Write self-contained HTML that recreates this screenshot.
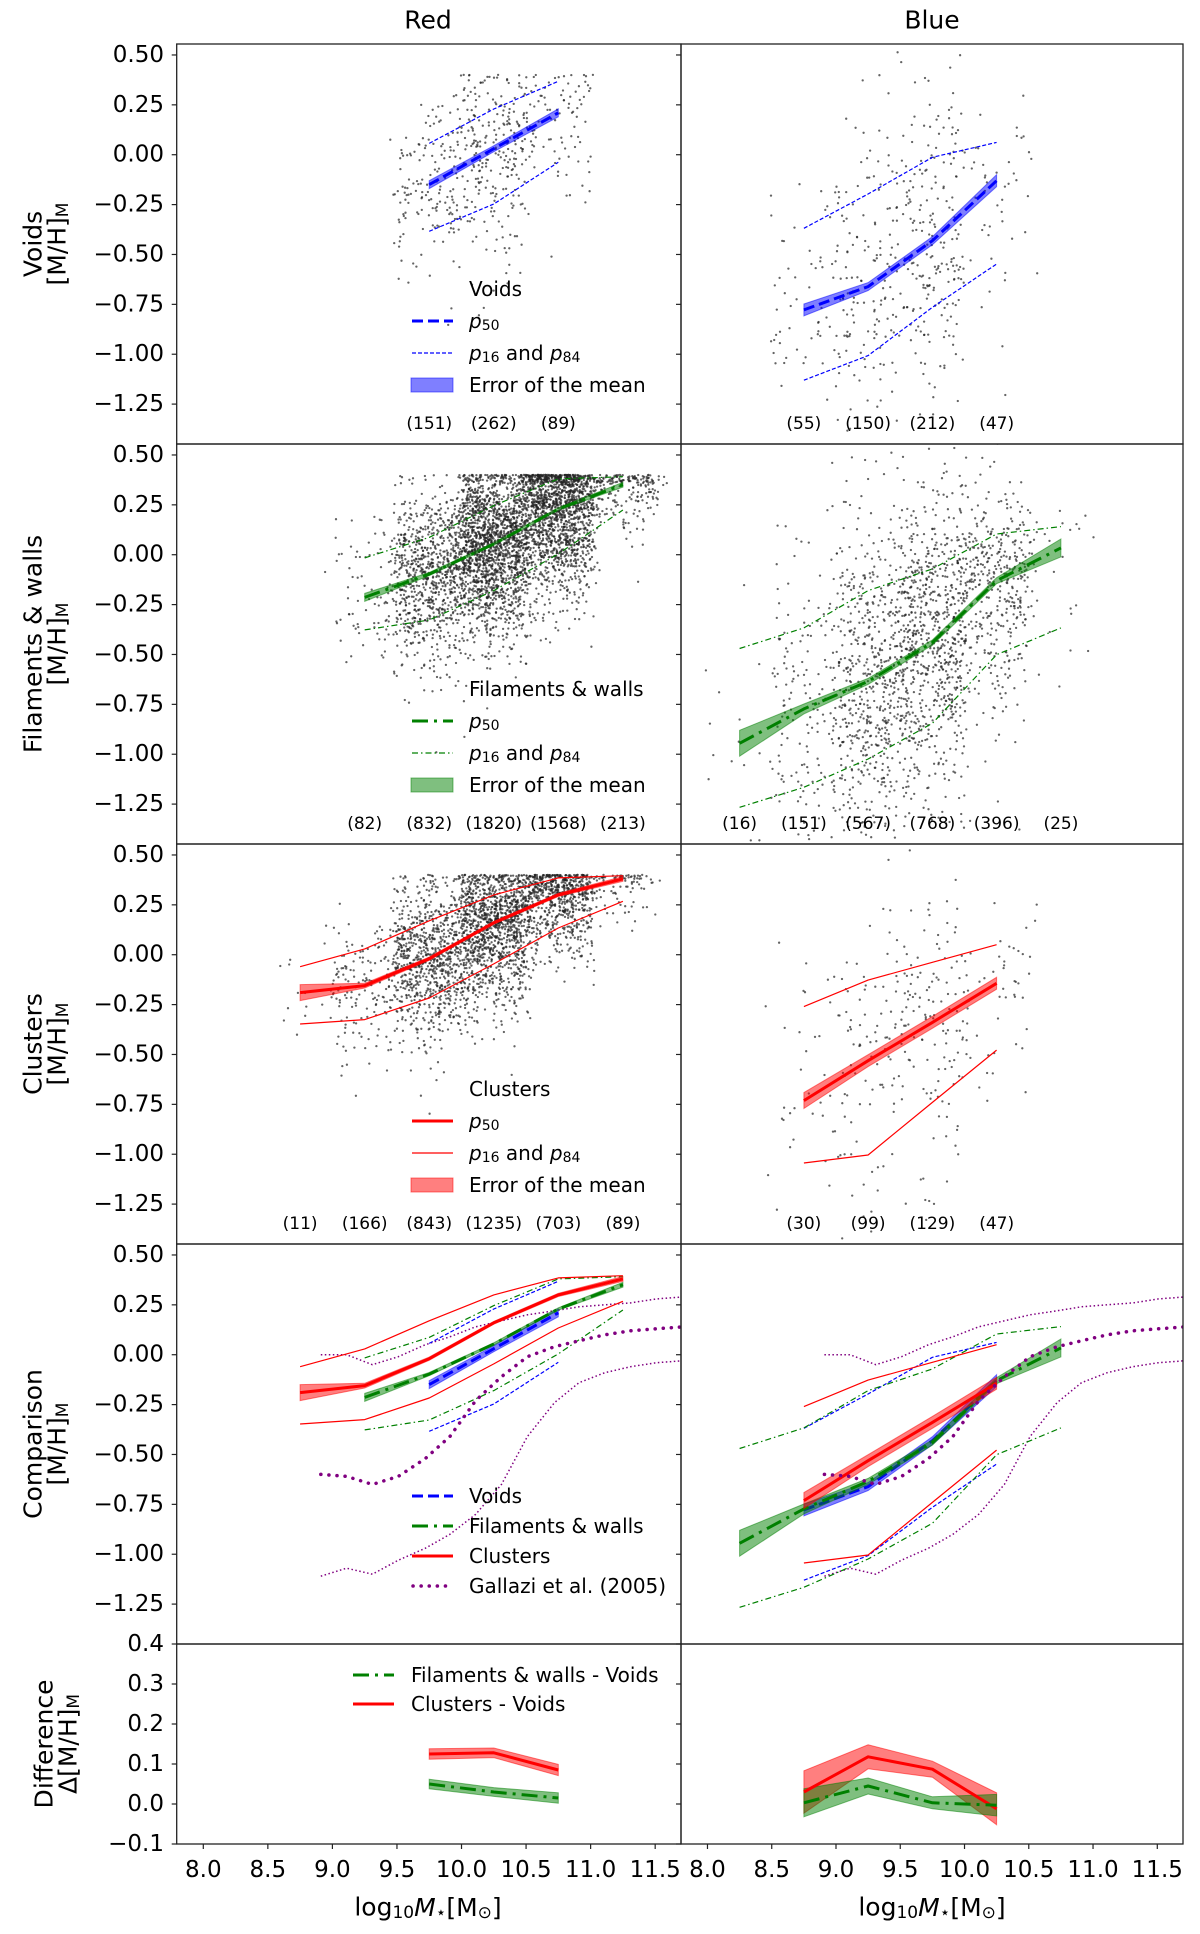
<!DOCTYPE html>
<html><head><meta charset="utf-8"><title>Metallicity vs stellar mass by environment</title>
<style>
html,body{margin:0;padding:0;background:#fff;}
svg{display:block;font-family:"DejaVu Sans","Liberation Sans",sans-serif;}
</style></head>
<body>
<svg id="fig" width="1200" height="1934" viewBox="0 0 1200 1934" xmlns="http://www.w3.org/2000/svg"></svg>
<script>
// ---------------- data ----------------
const voidsRedM = [9.75, 10.25, 10.75];
const voidsRedP50 = [-0.15, 0.03, 0.21];
const voidsRedP84 = [0.057, 0.229, 0.368];
const voidsRedP16 = [-0.384, -0.247, -0.038];
const voidsRedErr = [0.02, 0.015, 0.02];
const voidsRedN = [151, 262, 89];

const voidsBlueM = [8.75, 9.25, 9.75, 10.25];
const voidsBlueP50 = [-0.778, -0.661, -0.431, -0.13];
const voidsBlueP84 = [-0.369, -0.197, -0.013, 0.062];
const voidsBlueP16 = [-1.13, -1.007, -0.765, -0.548];
const voidsBlueErr = [0.03, 0.02, 0.02, 0.03];
const voidsBlueN = [55, 150, 212, 47];

const filRedM = [9.25, 9.75, 10.25, 10.75, 11.25];
const filRedP50 = [-0.214, -0.097, 0.054, 0.229, 0.351];
const filRedP84 = [-0.016, 0.087, 0.246, 0.38, 0.391];
const filRedP16 = [-0.377, -0.327, -0.18, 0.004, 0.224];
const filRedErr = [0.02, 0.008, 0.006, 0.006, 0.012];
const filRedN = [82, 832, 1820, 1568, 213];

const filBlueM = [8.25, 8.75, 9.25, 9.75, 10.25, 10.75];
const filBlueP50 = [-0.945, -0.773, -0.635, -0.44, -0.13, 0.034];
const filBlueP84 = [-0.47, -0.367, -0.18, -0.071, 0.104, 0.141];
const filBlueP16 = [-1.266, -1.166, -1.024, -0.845, -0.501, -0.367];
const filBlueErr = [0.065, 0.025, 0.015, 0.013, 0.015, 0.045];
const filBlueN = [16, 151, 567, 768, 396, 25];

const cluRedM = [8.75, 9.25, 9.75, 10.25, 10.75, 11.25];
const cluRedP50 = [-0.19, -0.155, -0.02, 0.16, 0.30, 0.38];
const cluRedP84 = [-0.06, 0.029, 0.17, 0.30, 0.385, 0.396];
const cluRedP16 = [-0.347, -0.325, -0.217, -0.046, 0.134, 0.268];
const cluRedErr = [0.04, 0.012, 0.008, 0.007, 0.008, 0.012];
const cluRedN = [11, 166, 843, 1235, 703, 89];

const cluBlueM = [8.75, 9.25, 9.75, 10.25];
const cluBlueP50 = [-0.731, -0.531, -0.339, -0.143];
const cluBlueP84 = [-0.26, -0.127, -0.038, 0.05];
const cluBlueP16 = [-1.044, -1.004, -0.74, -0.478];
const cluBlueErr = [0.04, 0.03, 0.03, 0.03];
const cluBlueN = [30, 99, 129, 47];

const galM = [8.91, 9.11, 9.31, 9.51, 9.72, 9.91, 10.11, 10.31, 10.51, 10.72, 10.91, 11.11, 11.31, 11.51, 11.72];
const galP50 = [-0.60, -0.61, -0.65, -0.61, -0.52, -0.41, -0.23, -0.11, -0.01, 0.04, 0.07, 0.10, 0.12, 0.13, 0.14];
const galP16 = [-1.11, -1.07, -1.10, -1.03, -0.97, -0.90, -0.80, -0.65, -0.41, -0.24, -0.14, -0.09, -0.06, -0.04, -0.03];
const galP84 = [0.00, 0.00, -0.05, -0.01, 0.05, 0.09, 0.14, 0.17, 0.20, 0.22, 0.24, 0.25, 0.26, 0.28, 0.29];

const diffRedM = [9.75, 10.25, 10.75];
const diffRedClu = [0.125, 0.128, 0.085];
const diffRedCluErr = [0.013, 0.012, 0.014];
const diffRedFil = [0.05, 0.03, 0.015];
const diffRedFilErr = [0.012, 0.011, 0.013];

const diffBlueM = [8.75, 9.25, 9.75, 10.25];
const diffBlueClu = [0.03, 0.118, 0.087, -0.012];
const diffBlueCluErr = [0.053, 0.03, 0.02, 0.04];
const diffBlueFil = [0.003, 0.045, 0.003, -0.003];
const diffBlueFilErr = [0.035, 0.02, 0.015, 0.027];

const yTicksMain = [0.5, 0.25, 0, -0.25, -0.5, -0.75, -1.0, -1.25];
const yTickLabelsMain = ["0.50", "0.25", "0.00", "\u22120.25", "\u22120.50", "\u22120.75", "\u22121.00", "\u22121.25"];
const yTicksDiff = [0.4, 0.3, 0.2, 0.1, 0.0, -0.1];
const yTickLabelsDiff = ["0.4", "0.3", "0.2", "0.1", "0.0", "\u22120.1"];
const xTicks = [8.0, 8.5, 9.0, 9.5, 10.0, 10.5, 11.0, 11.5];
const xTickLabels = ["8.0", "8.5", "9.0", "9.5", "10.0", "10.5", "11.0", "11.5"];

// ---------------- geometry ----------------
const NS = "http://www.w3.org/2000/svg";
const svg = document.getElementById("fig");
const COLX = [[176.7, 681], [681, 1183]];
const XMIN = 7.794, XMAX = 11.70;
const ROWTOP = [44, 444, 844, 1244, 1644];
const ROWH = [400, 400, 400, 400, 200];
const YLIM = [[-1.45, 0.555], [-1.45, 0.555], [-1.45, 0.555], [-1.45, 0.555], [-0.1, 0.4]];
function X(c, m) { return COLX[c][0] + (m - XMIN) / (XMAX - XMIN) * (COLX[c][1] - COLX[c][0]); }
function Y(r, v) { const [lo, hi] = YLIM[r]; return ROWTOP[r] + (hi - v) / (hi - lo) * ROWH[r]; }

function mk(tag, attrs, parent) {
  const e = document.createElementNS(NS, tag);
  for (const k in attrs) e.setAttribute(k, attrs[k]);
  (parent || svg).appendChild(e);
  return e;
}

// deterministic generator for scatter texture
let seed = 12345;
function rnd() { seed |= 0; seed = seed + 0x6D2B79F5 | 0; let t = Math.imul(seed ^ seed >>> 15, 1 | seed); t = t + Math.imul(t ^ t >>> 7, 61 | t) ^ t; return ((t ^ t >>> 14) >>> 0) / 4294967296; }
function gauss() { let u = rnd() || 1e-9, v = rnd(); return Math.sqrt(-2 * Math.log(u)) * Math.cos(2 * Math.PI * v); }

const defs = mk("defs", {});
for (let r = 0; r < 5; r++) for (let c = 0; c < 2; c++) {
  const cp = mk("clipPath", { id: "clip" + r + c }, defs);
  mk("rect", { x: COLX[c][0], y: ROWTOP[r], width: COLX[c][1] - COLX[c][0], height: ROWH[r] }, cp);
}
const rowNames = ["voids", "filaments", "clusters", "comparison", "difference"];
const colNames = ["red", "blue"];
function panelGroup(r, c) {
  const g = mk("g", { "clip-path": "url(#clip" + r + c + ")" });
  
  
  return g;
}

function pathD(c, r, ms, vs) { return ms.map((m, i) => (i ? "L" : "M") + X(c, m).toFixed(1) + " " + Y(r, vs[i]).toFixed(1)).join(" "); }
function line(g, c, r, ms, vs, color, w, dash, name) {
  const p = mk("path", { d: pathD(c, r, ms, vs), fill: "none", stroke: color, "stroke-width": w, "stroke-linejoin": "round" }, g);
  if (dash) p.setAttribute("stroke-dasharray", dash);
  
  
  return p;
}
function band(g, c, r, ms, vs, es, color, name) {
  const up = ms.map((m, i) => X(c, m).toFixed(1) + "," + Y(r, vs[i] + es[i]).toFixed(1));
  const lo = ms.map((m, i) => X(c, m).toFixed(1) + "," + Y(r, vs[i] - es[i]).toFixed(1)).reverse();
  const p = mk("polygon", { points: up.concat(lo).join(" "), fill: color, "fill-opacity": 0.5, stroke: color, "stroke-opacity": 0.5, "stroke-width": 1 }, g);
  
  
}
function scatter(g, c, r, ms, p50, p16, p84, ns, cap) {
  const sg = mk("g", { fill: "#222", "fill-opacity": 0.7 }, g);
  
  
  for (let b = 0; b < ms.length; b++) {
    for (let k = 0; k < ns[b]; k++) {
      const xm = ms[b] + (rnd() - 0.5) * 0.5 + gauss() * 0.04;
      const z = gauss() * (rnd() < 0.06 ? 1.3 : 1);
      let v = p50[b] + z * (z > 0 ? p84[b] - p50[b] : p50[b] - p16[b]);
      if (cap && v > 0.4) v = 0.4 - Math.pow(rnd(), 2) * 0.04;
      mk("circle", { cx: X(c, xm).toFixed(1), cy: Y(r, v).toFixed(1), r: 1.15 }, sg);
    }
  }
}

const COL = { voids: "#0000ff", fil: "#008000", clu: "#ff0000", gal: "#800080" };
const STY = {
  voids: { p50: "11 5", pp: "4 2" },
  fil: { p50: "16 6 3 6", pp: "6 3 1.5 3" },
  clu: { p50: null, pp: null }
};
const envData = {
  voids: [[voidsRedM, voidsRedP50, voidsRedP16, voidsRedP84, voidsRedErr, voidsRedN], [voidsBlueM, voidsBlueP50, voidsBlueP16, voidsBlueP84, voidsBlueErr, voidsBlueN]],
  fil: [[filRedM, filRedP50, filRedP16, filRedP84, filRedErr, filRedN], [filBlueM, filBlueP50, filBlueP16, filBlueP84, filBlueErr, filBlueN]],
  clu: [[cluRedM, cluRedP50, cluRedP16, cluRedP84, cluRedErr, cluRedN], [cluBlueM, cluBlueP50, cluBlueP16, cluBlueP84, cluBlueErr, cluBlueN]]
};
function drawEnv(g, env, c, r) {
  const [ms, p50, p16, p84, err] = envData[env][c];
  band(g, c, r, ms, p50, err, COL[env], env + '-error-band');
  line(g, c, r, ms, p84, COL[env], 1.2, STY[env].pp, env + '-p84-line');
  line(g, c, r, ms, p16, COL[env], 1.2, STY[env].pp, env + '-p16-line');
  line(g, c, r, ms, p50, COL[env], 3, STY[env].p50, env + '-p50-line');
}

function text(str, x, y, size, anchor, name, extra) {
  const t = mk("text", Object.assign({ x: x, y: y, "font-size": size, "text-anchor": anchor || "start", "dominant-baseline": "central", fill: "#000" }, extra || {}));
  t.textContent = str;
  
  
  return t;
}

// ---------------- rows 0..2 ----------------
const envs = ["voids", "fil", "clu"];
const envTitles = ["Voids", "Filaments & walls", "Clusters"];
for (let r = 0; r < 3; r++) {
  for (let c = 0; c < 2; c++) {
    const g = panelGroup(r, c);
    const [ms, p50, p16, p84, err, ns] = envData[envs[r]][c];
    scatter(g, c, r, ms, p50, p16, p84, ns, c === 0);
    drawEnv(g, envs[r], c, r);
    ms.forEach((m, i) => text("(" + ns[i] + ")", X(c, m), ROWTOP[r] + 380, 17, "middle", "bin-count"));
  }
}

// ---------------- comparison row ----------------
for (let c = 0; c < 2; c++) {
  const g = panelGroup(3, c);
  line(g, c, 3, galM, galP84, COL.gal, 1.5, "1.5 2.5", 'gallazzi-p84-line');
  line(g, c, 3, galM, galP16, COL.gal, 1.5, "1.5 2.5", 'gallazzi-p16-line');
  ["voids", "fil", "clu"].forEach(env => drawEnv(g, env, c, 3));
  const gp = line(g, c, 3, galM, galP50, COL.gal, 3.5, "0.1 8", 'gallazzi-p50-line');
  gp.setAttribute("stroke-linecap", "round");
}

// ---------------- difference row ----------------
const diffData = [[diffRedM, diffRedClu, diffRedCluErr, diffRedFil, diffRedFilErr], [diffBlueM, diffBlueClu, diffBlueCluErr, diffBlueFil, diffBlueFilErr]];
for (let c = 0; c < 2; c++) {
  const g = panelGroup(4, c);
  const [ms, clu, cluE, fil, filE] = diffData[c];
  band(g, c, 4, ms, clu, cluE, COL.clu, 'clusters-minus-voids-band');
  band(g, c, 4, ms, fil, filE, COL.fil, 'filaments-minus-voids-band');
  line(g, c, 4, ms, clu, COL.clu, 3, null, 'clusters-minus-voids-line');
  line(g, c, 4, ms, fil, COL.fil, 3, STY.fil.p50, 'filaments-minus-voids-line');
}

// ---------------- legends ----------------
function legendHandle(y, kind, color, dash, w, name) {
  const g = mk("g", {});
  
  
  if (kind === "patch") {
    mk("rect", { x: 411, y: y - 7, width: 42, height: 14, fill: color, "fill-opacity": 0.5, stroke: color, "stroke-opacity": 0.5 }, g);
  } else if (kind === "line") {
    const l = mk("line", { x1: 412, y1: y, x2: 453, y2: y, stroke: color, "stroke-width": w }, g);
    if (dash) l.setAttribute("stroke-dasharray", dash);
  }
}
function subLabel(y, a, name) {
  const t = mk("text", { x: 469, y: y, "font-size": 20, "dominant-baseline": "central" });
  
  
  t.innerHTML = a;
}
for (let r = 0; r < 3; r++) {
  const env = envs[r], top = ROWTOP[r];
  text(envTitles[r], 469, top + 245, 20, "start", 'legend-scatter-label');
  legendHandle(top + 277, "line", COL[env], STY[env].p50, 3, 'legend-p50-handle');
  subLabel(top + 277, '<tspan font-style="italic">p</tspan><tspan font-size="14" dy="5">50</tspan>', 'legend-p50-label');
  legendHandle(top + 309, "line", COL[env], STY[env].pp, 1.2, 'legend-p16-p84-handle');
  subLabel(top + 309, '<tspan font-style="italic">p</tspan><tspan font-size="14" dy="5">16</tspan><tspan dy="-5"> and </tspan><tspan font-style="italic">p</tspan><tspan font-size="14" dy="5">84</tspan>', 'legend-p16-p84-label');
  legendHandle(top + 341, "patch", COL[env], null, 0, 'legend-error-handle');
  text("Error of the mean", 469, top + 341, 20, "start", 'legend-error-label');
}
const cmpRows = [1496, 1526, 1556, 1586];
legendHandle(cmpRows[0], "line", COL.voids, STY.voids.p50, 3, 'legend-voids-handle');
text("Voids", 469, cmpRows[0], 20, "start", 'legend-voids-label');
legendHandle(cmpRows[1], "line", COL.fil, STY.fil.p50, 3, 'legend-filaments-handle');
text("Filaments & walls", 469, cmpRows[1], 20, "start", 'legend-filaments-label');
legendHandle(cmpRows[2], "line", COL.clu, null, 3, 'legend-clusters-handle');
text("Clusters", 469, cmpRows[2], 20, "start", 'legend-clusters-label');
const gl = mk("line", { x1: 413, y1: cmpRows[3], x2: 453, y2: cmpRows[3], stroke: COL.gal, "stroke-width": 3.5, "stroke-dasharray": "0.1 8", "stroke-linecap": "round" });


text("Gallazi et al. (2005)", 469, cmpRows[3], 20, "start", 'legend-gallazzi-label');

const dl1 = mk("line", { x1: 353, y1: 1675, x2: 394, y2: 1675, stroke: COL.fil, "stroke-width": 3, "stroke-dasharray": STY.fil.p50 });


text("Filaments & walls - Voids", 411, 1675, 20, "start", 'legend-fil-minus-voids-label');
const dl2 = mk("line", { x1: 353, y1: 1704, x2: 394, y2: 1704, stroke: COL.clu, "stroke-width": 3 });


text("Clusters - Voids", 411, 1704, 20, "start", 'legend-clu-minus-voids-label');

// ---------------- axes ----------------
for (let r = 0; r < 5; r++) {
  for (let c = 0; c < 2; c++) {
    const fr = mk("rect", { x: COLX[c][0], y: ROWTOP[r], width: COLX[c][1] - COLX[c][0], height: ROWH[r], fill: "none", stroke: "#222", "stroke-width": 1.3 });
    
    
    const ticks = r < 4 ? yTicksMain : yTicksDiff;
    const labs = r < 4 ? yTickLabelsMain : yTickLabelsDiff;
    ticks.forEach((v, i) => {
      const y = Y(r, v);
      const tk = mk("line", { x1: COLX[c][0] - 5, y1: y, x2: COLX[c][0], y2: y, stroke: "#222", "stroke-width": 1.2 });
      
      
      if (c === 0) text(labs[i], 164, y, 23, "end", 'y-tick-label');
    });
    if (r === 4) {
      xTicks.forEach((m, i) => {
        const x = X(c, m);
        const tk = mk("line", { x1: x, y1: 1844, x2: x, y2: 1849, stroke: "#222", "stroke-width": 1.2 });
        
        
        text(xTickLabels[i], x, 1870, 23, "middle", 'x-tick-label');
      });
    }
  }
}
// y labels
const yl1 = ["Voids", "Filaments & walls", "Clusters", "Comparison", "Difference"];
for (let r = 0; r < 5; r++) {
  const cy = ROWTOP[r] + ROWH[r] / 2;
  text(yl1[r], 0, 0, 25, "middle", 'y-axis-title', { transform: "translate(" + (r === 4 ? 44 : 33) + "," + cy + ") rotate(-90)" });
  const t2 = mk("text", { x: 0, y: 0, "font-size": 25, "text-anchor": "middle", "dominant-baseline": "central", transform: "translate(" + (r === 4 ? 68 : 57) + "," + cy + ") rotate(-90)" });
  t2.innerHTML = (r === 4 ? "\u0394" : "") + '[M/H]<tspan font-size="17" dy="6">M</tspan>';
  
  
}
// titles
text("Red", 428, 20, 25, "middle", 'column-title-red');
text("Blue", 932, 20, 25, "middle", 'column-title-blue');
// x labels
[428, 932].forEach((x, c) => {
  const t = mk("text", { x: x, y: 1907, "font-size": 25, "text-anchor": "middle", "dominant-baseline": "central" });
  t.innerHTML = 'log<tspan font-size="17" dy="6">10</tspan><tspan dy="-6" font-style="italic">M</tspan><tspan font-size="17" dy="6">\u22C6</tspan><tspan dy="-6">[M</tspan><tspan font-size="17" dy="6">\u2299</tspan><tspan dy="-6">]</tspan>';
  
  
});
</script>
</body></html>
